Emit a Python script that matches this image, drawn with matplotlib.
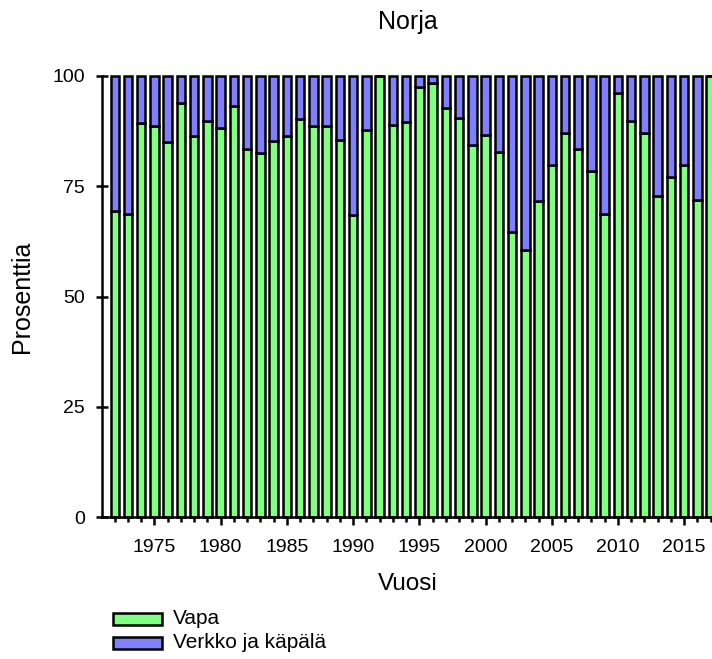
import matplotlib
matplotlib.use("Agg")
import matplotlib.pyplot as plt
from matplotlib.patches import Rectangle

plt.rcParams['font.family'] = ['Liberation Sans', 'DejaVu Sans']

years = list(range(1972, 2018))
vapa = [69.5, 68.6, 89.3, 88.7, 85.1, 93.8, 86.4, 89.7, 88.1, 93.2,
        83.4, 82.6, 85.3, 86.4, 90.3, 88.7, 88.7, 85.5, 68.4, 87.8,
        100.0, 88.8, 89.6, 97.6, 98.5, 92.7, 90.5, 84.4, 86.7, 82.8,
        64.6, 60.5, 71.6, 79.9, 87.0, 83.5, 78.5, 68.7, 96.1, 89.7,
        87.0, 72.8, 77.2, 79.9, 71.9, 100.0]
verkko = [100.0 - v for v in vapa]

labels = ["Vapa", "Verkko ja käpälä"]
colors = ["#80FF80", "#8080FF"]

W, H = 712, 659
fig = plt.figure(figsize=(W / 100, H / 100), dpi=100)
ax = fig.add_axes([101.5 / W, 1 - 517 / H, (712 - 101.5) / W, (517 - 76) / H])

LW = 1.8
b1 = ax.bar(years, vapa, width=0.64, color=colors[0], edgecolor="black", linewidth=LW)
b2 = ax.bar(years, verkko, bottom=vapa, width=0.64, color=colors[1], edgecolor="black", linewidth=LW)
for r in list(b1) + list(b2):
    r.set_clip_on(False)

ax.set_xlim(1971.0, 2017.1)
ax.set_ylim(0, 100)
ax.spines['top'].set_visible(False)
ax.spines['right'].set_visible(False)
ax.spines['left'].set_linewidth(1.8)
ax.spines['bottom'].set_linewidth(1.8)

ax.set_yticks([0, 25, 50, 75, 100])
ax.set_xticks(list(range(1975, 2016, 5)))
ax.set_xticks(years, minor=True)
ax.tick_params(axis='y', direction='inout', length=8, width=1.8, labelsize=14, pad=8)
ax.tick_params(axis='x', which='major', direction='out', length=5.5, width=1.8, labelsize=14, pad=10)
ax.tick_params(axis='x', which='minor', direction='out', length=3.5, width=1.8)

fig.text(408 / W, 1 - 29 / H, "Norja", ha='center', va='baseline', fontsize=18)
fig.text(22 / W, 1 - 297 / H, "Prosenttia", ha='center', va='center', rotation=90, fontsize=18)
fig.text(408 / W, 1 - 590 / H, "Vuosi", ha='center', va='baseline', fontsize=17.5)

rows = [619, 643]
for c, lab, yc in zip(colors, labels, rows):
    fig.patches.append(Rectangle((113 / W, 1 - (yc + 6) / H), 49 / W, 12 / H,
                                 transform=fig.transFigure, facecolor=c,
                                 edgecolor='black', linewidth=1.8))
    fig.text(173 / W, 1 - yc / H, lab, ha='left', va='center', fontsize=15)

fig.savefig("out.png", dpi=100)
